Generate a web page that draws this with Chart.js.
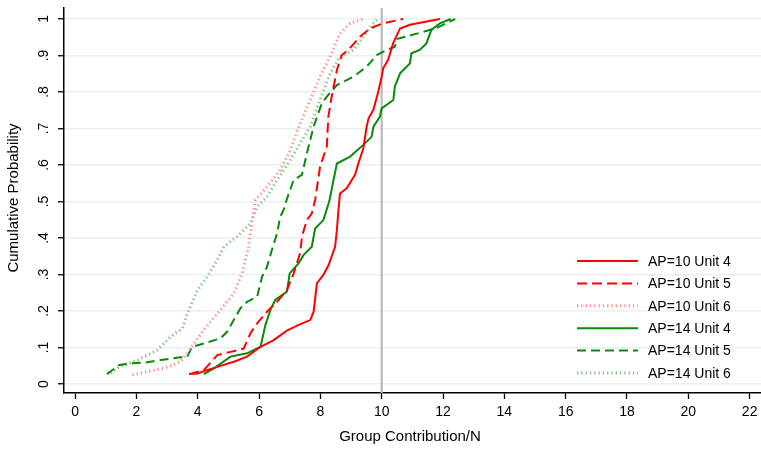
<!DOCTYPE html>
<html>
<head>
<meta charset="utf-8">
<script src="https://cdn.jsdelivr.net/npm/chart.js@4/dist/chart.umd.min.js"></script>
<style>
  html, body { margin: 0; padding: 0; background: #fff; }
  #wrap { width: 761px; height: 450px; position: relative; }
</style>
</head>
<body>
<div id="wrap"><canvas id="cdfChart"></canvas></div>
<script>
// axis ticks
const xTicks = [0, 2, 4, 6, 8, 10, 12, 14, 16, 18, 20, 22];
const yTicks = [0, .1, .2, .3, .4, .5, .6, .7, .8, .9, 1];
const yTickLabels = ['0', '.1', '.2', '.3', '.4', '.5', '.6', '.7', '.8', '.9', '1'];

// AP=10 Unit 4
const ap10u4X = [3.72, 3.99, 4.31, 4.64, 5.18, 5.61, 6.05, 6.48, 6.91, 7.29, 7.67, 7.78, 7.89, 8.1, 8.27, 8.48, 8.54, 8.59, 8.64, 8.86, 9.13, 9.24, 9.4, 9.51, 9.57, 9.73, 9.89, 10.0, 10.05, 10.21, 10.38, 10.6, 10.92, 11.9];
const ap10u4Y = [.027, .029, .038, .047, .061, .075, .102, .12, .146, .162, .175, .198, .276, .299, .326, .376, .422, .477, .522, .536, .573, .604, .645, .705, .727, .751, .801, .842, .865, .888, .935, .974, .984, 1.0];
// AP=10 Unit 5
const ap10u5X = [3.72, 4.2, 4.64, 5.07, 5.5, 5.72, 5.94, 6.26, 6.59, 6.91, 7.13, 7.34, 7.4, 7.56, 7.72, 7.83, 7.99, 8.21, 8.26, 8.37, 8.54, 8.7, 8.91, 9.29, 9.62, 10.05, 10.7];
const ap10u5Y = [.027, .038, .079, .088, .097, .139, .166, .198, .225, .257, .303, .358, .404, .449, .467, .504, .595, .65, .732, .787, .86, .901, .915, .951, .974, .988, 1.0];
// AP=10 Unit 6
const ap10u6X = [1.87, 2.36, 2.9, 3.44, 3.66, 3.88, 4.2, 4.64, 5.18, 5.45, 5.66, 5.78, 5.88, 6.26, 6.69, 7.02, 7.34, 7.67, 7.99, 8.32, 8.64, 8.97, 9.4];
const ap10u6Y = [.025, .034, .043, .061, .084, .111, .148, .193, .248, .303, .376, .449, .504, .54, .586, .641, .714, .778, .842, .897, .96, .988, 1.0];
// AP=14 Unit 4
const ap14u4X = [4.2, 4.53, 5.07, 5.61, 6.05, 6.21, 6.37, 6.53, 6.91, 7.0, 7.29, 7.45, 7.72, 7.83, 8.1, 8.27, 8.3, 8.43, 8.54, 8.97, 9.4, 9.67, 9.73, 9.94, 10.0, 10.38, 10.43, 10.6, 10.92, 10.97, 11.24, 11.46, 11.62, 11.9, 12.25];
const ap14u4Y = [.027, .043, .075, .084, .102, .162, .203, .23, .253, .303, .33, .353, .376, .426, .449, .495, .504, .559, .604, .623, .655, .677, .705, .732, .755, .778, .815, .851, .878, .906, .915, .933, .97, .988, 1.0];
// AP=14 Unit 5
const ap14u5X = [1.04, 1.44, 1.87, 2.31, 2.8, 3.44, 3.66, 3.82, 4.2, 4.74, 4.96, 5.39, 5.61, 5.94, 5.99, 6.1, 6.26, 6.42, 6.59, 6.69, 6.8, 6.91, 7.13, 7.4, 7.56, 7.78, 8.05, 8.21, 8.54, 9.08, 9.51, 9.84, 10.16, 10.43, 10.49, 11.24, 11.79, 12.4];
const ap14u5Y = [.027, .052, .057, .059, .066, .073, .075, .102, .111, .125, .143, .207, .225, .239, .257, .294, .321, .367, .413, .458, .477, .507, .559, .573, .632, .705, .769, .787, .819, .842, .869, .901, .915, .924, .945, .962, .975, 1.0];
// AP=14 Unit 6
const ap14u6X = [1.17, 1.44, 2.04, 2.69, 3.12, 3.5, 3.66, 3.99, 4.31, 4.64, 4.85, 5.29, 5.72, 5.94, 6.26, 6.59, 7.02, 7.34, 7.67, 7.99, 8.32, 8.64, 9.08, 9.4, 9.73, 9.89];
const ap14u6Y = [.029, .047, .066, .093, .13, .152, .193, .257, .294, .34, .376, .404, .44, .486, .513, .559, .614, .659, .705, .778, .851, .897, .915, .951, .988, 1.0];

const FONT = '"Liberation Sans", Arial, Helvetica, sans-serif';
const toPoints = (xs, ys) => xs.map((x, i) => ({ x: x, y: ys[i] }));

function series(label, xs, ys, color, dash, width) {
    return {
        label: label,
        data: toPoints(xs, ys),
        borderColor: color,
        borderWidth: width,
        borderDash: dash,
        pointRadius: 0,
        fill: false,
        tension: 0
    };
}

// reference line at 10, axis texts and the in-plot legend
const decorations = {
    id: 'decorations',
    beforeDatasetsDraw(chart) {
        const { ctx, chartArea, scales } = chart;
        const px = scales.x.getPixelForValue(10);
        ctx.save();
        ctx.strokeStyle = '#b4b4b4';
        ctx.lineWidth = 2;
        ctx.beginPath();
        ctx.moveTo(px, chartArea.top);
        ctx.lineTo(px, chartArea.bottom);
        ctx.stroke();
        ctx.restore();
    },
    afterDraw(chart) {
        const { ctx, scales } = chart;
        ctx.save();
        ctx.fillStyle = '#000';

        // x tick labels
        ctx.font = '14px ' + FONT;
        ctx.textAlign = 'center';
        ctx.textBaseline = 'middle';
        xTicks.forEach(v => ctx.fillText(String(v), scales.x.getPixelForValue(v), 412));

        // y tick labels, rotated
        yTicks.forEach((v, i) => {
            ctx.save();
            ctx.translate(44, scales.y.getPixelForValue(v));
            ctx.rotate(-Math.PI / 2);
            ctx.fillText(yTickLabels[i], 0, 0);
            ctx.restore();
        });

        // axis titles
        ctx.font = '15px ' + FONT;
        ctx.fillText('Group Contribution/N', 410, 437);
        ctx.save();
        ctx.translate(14, 198);
        ctx.rotate(-Math.PI / 2);
        ctx.fillText('Cumulative Probability', 0, 0);
        ctx.restore();

        // legend
        ctx.font = '14px ' + FONT;
        ctx.textAlign = 'left';
        chart.data.datasets.forEach((ds, i) => {
            const y = 261 + i * 22.4;
            ctx.save();
            ctx.strokeStyle = ds.borderColor;
            ctx.lineWidth = ds.borderWidth;
            ctx.setLineDash(ds.borderDash || []);
            ctx.beginPath();
            ctx.moveTo(577, y);
            ctx.lineTo(638, y);
            ctx.stroke();
            ctx.restore();
            ctx.fillText(ds.label, 648, y + 1);
        });
        ctx.restore();
    }
};

new Chart(document.getElementById('cdfChart'), {
    type: 'line',
    data: {
        datasets: [
            series('AP=10 Unit 4', ap10u4X, ap10u4Y, '#ff0000', [], 2),
            series('AP=10 Unit 5', ap10u5X, ap10u5Y, '#ff0000', [10, 5], 2),
            series('AP=10 Unit 6', ap10u6X, ap10u6Y, '#ff8f8f', [1.3, 3], 3),
            series('AP=14 Unit 4', ap14u4X, ap14u4Y, '#0a8a0a', [], 2),
            series('AP=14 Unit 5', ap14u5X, ap14u5Y, '#0a8a0a', [9, 5], 2),
            series('AP=14 Unit 6', ap14u6X, ap14u6Y, '#84c284', [1.3, 3], 3)
        ]
    },
    options: {
        responsive: true,
        maintainAspectRatio: false,
        animation: false,
        layout: { padding: { top: 8, right: 0, left: 0, bottom: 0 } },
        plugins: { legend: { display: false }, tooltip: { enabled: false } },
        scales: {
            x: {
                type: 'linear',
                min: -0.36,
                max: 22.37,
                afterBuildTicks: s => { s.ticks = xTicks.map(v => ({ value: v })); },
                afterFit: s => { s.height = 57; },
                ticks: { display: false },
                grid: { drawOnChartArea: false, drawTicks: true, tickLength: 6, tickColor: '#000', tickWidth: 1.3 },
                border: { color: '#000', width: 1.5 }
            },
            y: {
                type: 'linear',
                min: -0.0247,
                max: 1.03,
                afterBuildTicks: s => { s.ticks = yTicks.map(v => ({ value: v })); },
                afterFit: s => { s.width = 64; },
                ticks: { display: false },
                grid: { color: '#e9eff2', lineWidth: 1.5, drawTicks: true, tickLength: 6, tickColor: '#000', tickWidth: 1.3 },
                border: { color: '#000', width: 1.5 }
            }
        }
    },
    plugins: [decorations]
});
</script>
</body>
</html>
